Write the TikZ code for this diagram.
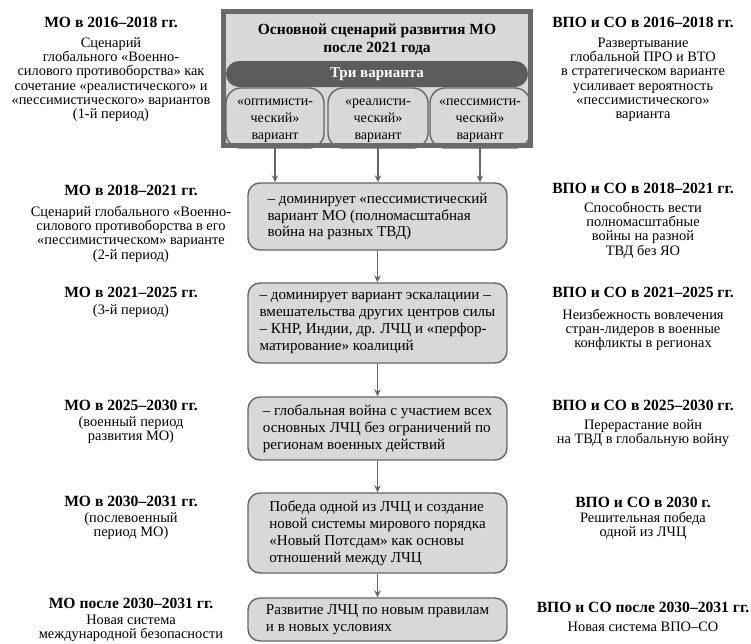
\documentclass[tikz,border=0pt]{standalone}
\usepackage{fontspec}
\setmainfont{Liberation Serif}
\usetikzlibrary{arrows.meta}
\definecolor{framegray}{HTML}{6A6A6A}
\definecolor{boxfill}{HTML}{D8D8D8}
\definecolor{barfill}{HTML}{5C5C5C}
\definecolor{linegray}{HTML}{666666}
\tikzset{
  head/.style={font=\fontsize{15.6}{17}\selectfont\bfseries, inner sep=0pt, anchor=base},
  body/.style={font=\fontsize{14.4}{14.3}\selectfont, inner sep=0pt, anchor=north, align=center},
  stage/.style={draw=linegray, line width=1.4pt, fill=boxfill, rounded corners=12pt,
    minimum width=259pt, align=left, font=\fontsize{15.1}{16.9}\selectfont, inner sep=0pt},
  variant/.style={draw=linegray, line width=1.4pt, fill=boxfill, rounded corners=15pt,
    align=center, inner sep=0pt},
  vtext/.style={font=\fontsize{14}{17}\selectfont, align=center, inner sep=0pt, anchor=north},
  arr/.style={draw=linegray, line width=1.4pt, -{Stealth[length=7pt,width=6.5pt]}},
  frameline/.style={draw=framegray, line width=4.5pt}
}
\newcommand{\fs}{\rule{0pt}{11pt}}
\begin{document}
\begin{tikzpicture}[x=1pt,y=1pt]
\useasboundingbox (0,0) rectangle (751,-643);
% top frame
\node (frame) [fill=boxfill, outer sep=0pt, inner sep=0pt, minimum width=307pt, minimum height=134pt] at (377,-78.5) {};
\node (title) [font=\fontsize{15.5}{18}\selectfont\bfseries, align=center, inner sep=0pt, anchor=north] at (377,-23) {\fs Основной сценарий развития МО\\после 2021 года};
\node (v1) [variant, minimum width=98pt, minimum height=60pt] at (275,-118) {};
\node (v2) [variant, minimum width=100pt, minimum height=60pt] at (378,-118) {};
\node (v3) [variant, minimum width=100pt, minimum height=60pt] at (480,-118) {};
\node (v1t) [vtext] at (275,-94) {\fs«оптимисти-\\ческий»\\вариант};
\node (v2t) [vtext] at (378,-94) {\fs«реалисти-\\ческий»\\вариант};
\node (v3t) [vtext] at (480,-94) {\fs«пессимисти-\\ческий»\\вариант};
\node (bar) [fill=barfill, rounded corners=13pt, minimum width=302pt, minimum height=26pt, inner sep=0pt,
  text=white, font=\fontsize{15}{17}\selectfont\bfseries] at (377,-74) {Три варианта};
\draw[frameline] (frame.south west) rectangle (frame.north east);

% stage boxes
\node (s1) [stage, minimum height=67pt] at (377.5,-216.5) {– доминирует «пессимистический\\вариант МО (полномасштабная\\война на разных ТВД)};
\node (s2) [stage, minimum height=80pt] at (377.5,-323) {– доминирует вариант эскалациии –\\вмешательства других центров силы\\– КНР, Индии, др. ЛЧЦ и «перфор-\\матирование» коалиций};
\node (s3) [stage, minimum height=63pt] at (377.5,-428.5) {– глобальная война с участием всех\\основных ЛЧЦ без ограничений по\\регионам военных действий};
\node (s4) [stage, minimum height=80pt] at (377.5,-533) {Победа одной из ЛЧЦ и создание\\новой системы мирового порядка\\«Новый Потсдам» как основы\\отношений между ЛЧЦ};
\node (s5) [stage, minimum height=43pt] at (377.5,-619.5) {Развитие ЛЧЦ по новым правилам\\и в новых условиях};

% arrows
\draw[arr, shorten <=2.25pt] (v1 |- frame.south) -- (v1 |- s1.north);
\draw[arr, shorten <=2.25pt] (v2 |- frame.south) -- (v2 |- s1.north);
\draw[arr, shorten <=2.25pt] (v3 |- frame.south) -- (v3 |- s1.north);
\draw[arr] (s1) -- (s2);
\draw[arr] (s2) -- (s3);
\draw[arr] (s3) -- (s4);
\draw[arr] (s4) -- (s5);

% left column
\node (l1h) [head] at (111,-27.5) {МО в 2016–2018 гг.};
\node (l1b) [body] at (111,-36) {\fs Сценарий\\глобального «Военно-\\силового противоборства» как\\сочетание «реалистического» и\\«пессимистического» вариантов\\(1-й период)};
\node (l2h) [head] at (131,-195.5) {МО в 2018–2021 гг.};
\node (l2b) [body] at (131,-205) {\fs Сценарий глобального «Военно-\\силового противоборства в его\\«пессимистическом» варианте\\(2-й период)};
\node (l3h) [head] at (131,-297.5) {МО в 2021–2025 гг.};
\node (l3b) [body] at (131,-303) {\fs (3-й период)};
\node (l4h) [head] at (131,-410.5) {МО в 2025–2030 гг.};
\node (l4b) [body] at (131,-415) {\fs (военный период\\развития МО)};
\node (l5h) [head] at (131,-506.5) {МО в 2030–2031 гг.};
\node (l5b) [body] at (131,-511) {\fs (послевоенный\\период МО)};
\node (l6h) [head] at (131,-608.5) {МО после 2030–2031 гг.};
\node (l6b) [body] at (131,-613) {\fs Новая система\\международной безопасности};

% right column
\node (r1h) [head] at (643,-27.5) {ВПО и СО в 2016–2018 гг.};
\node (r1b) [body] at (643,-36) {\fs Развертывание\\глобальной ПРО и ВТО\\в стратегическом варианте\\усиливает вероятность\\«пессимистического»\\варианта};
\node (r2h) [head] at (643,-193.5) {ВПО и СО в 2018–2021 гг.};
\node (r2b) [body] at (643,-201) {\fs Способность вести\\полномасштабные\\войны на разной\\ТВД без ЯО};
\node (r3h) [head] at (643,-297.5) {ВПО и СО в 2021–2025 гг.};
\node (r3b) [body] at (643,-308) {\fs Неизбежность вовлечения\\стран-лидеров в военные\\конфликты в регионах};
\node (r4h) [head] at (643,-410.5) {ВПО и СО в 2025–2030 гг.};
\node (r4b) [body] at (643,-418) {\fs Перерастание войн\\на ТВД в глобальную войну};
\node (r5h) [head] at (643,-507.5) {ВПО и СО в 2030 г.};
\node (r5b) [body] at (643,-511) {\fs Решительная победа\\одной из ЛЧЦ};
\node (r6h) [head] at (643,-612.5) {ВПО и СО после 2030–2031 гг.};
\node (r6b) [body] at (643,-620) {\fs Новая система ВПО–СО};
\end{tikzpicture}
\end{document}
